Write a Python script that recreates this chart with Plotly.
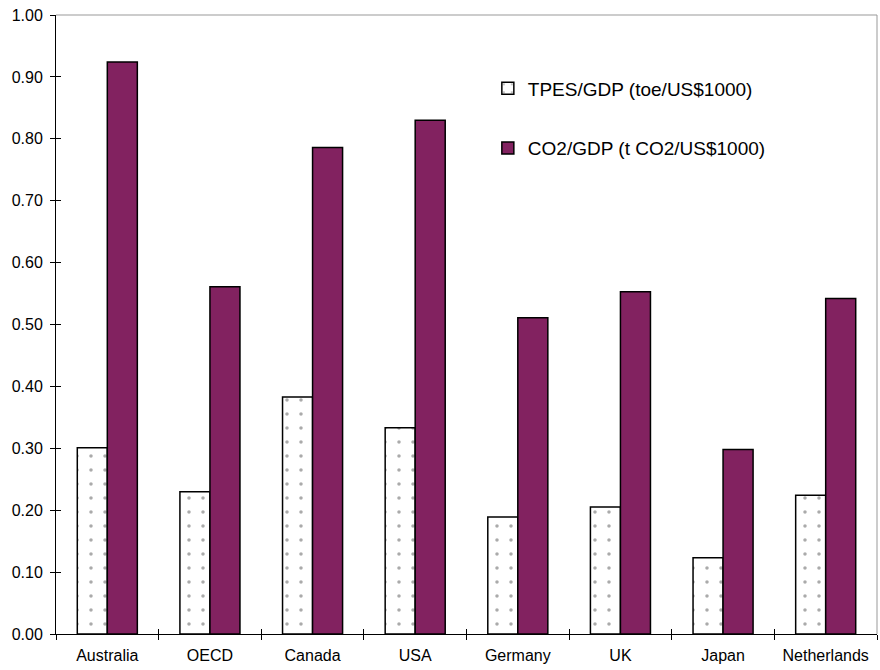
import plotly.graph_objects as go

categories = ["Australia", "OECD", "Canada", "USA", "Germany", "UK", "Japan", "Netherlands"]
tpes_gdp = [0.301, 0.230, 0.383, 0.333, 0.189, 0.205, 0.123, 0.224]
co2_gdp = [0.924, 0.561, 0.786, 0.830, 0.511, 0.553, 0.298, 0.542]
y_ticks = [i / 10 for i in range(11)]
y_tick_labels = [f"{v:.2f}" for v in y_ticks]

fig = go.Figure()
fig.add_trace(go.Bar(
    x=categories, y=tpes_gdp, name="TPES/GDP (toe/US$1000)",
    legendgroup="a",
    marker=dict(color="white", line=dict(color="black", width=1.5),
                pattern=dict(shape=".", fgcolor="#555555", bgcolor="white",
                             size=14, solidity=0.05)),
))
fig.add_trace(go.Bar(
    x=categories, y=co2_gdp, name="CO2/GDP (t CO2/US$1000)",
    legendgroup="b",
    marker=dict(color="#822260", line=dict(color="black", width=1.5)),
))
# invisible helper trace so the overlay axes (crossing ticks) are drawn
fig.add_trace(go.Scatter(x=categories, y=tpes_gdp, xaxis="x2", yaxis="y2",
                         mode="none", showlegend=False, hoverinfo="skip"))

fig.update_layout(
    width=880, height=670,
    margin=dict(l=56, r=3, t=15, b=36),
    paper_bgcolor="white", plot_bgcolor="white",
    barmode="group", bargap=0.415, bargroupgap=0,
    font=dict(family="Liberation Sans, Arial", size=16, color="black"),
    legend=dict(x=0.526, y=0.912, xanchor="left", yanchor="top",
                font=dict(size=19), tracegroupgap=32,
                bgcolor="rgba(0,0,0,0)", traceorder="grouped",
                itemwidth=30),
    showlegend=True,
    xaxis=dict(
        showline=True, linecolor="black", linewidth=1,
        ticks="outside", tickson="boundaries", ticklen=5, tickcolor="black",
        showgrid=False, tickfont=dict(size=16), automargin=False,
        ticklabelstandoff=7,
    ),
    yaxis=dict(
        range=[0, 1.0], tickvals=y_ticks, ticktext=y_tick_labels,
        showline=True, linecolor="black", linewidth=1,
        ticks="outside", ticklen=5, tickcolor="black",
        showgrid=False, zeroline=False, tickfont=dict(size=16),
        automargin=False, ticklabelstandoff=4,
    ),
    xaxis2=dict(overlaying="x", anchor="y", side="bottom", matches="x",
                showline=False, ticks="inside", tickson="boundaries",
                ticklen=5, tickcolor="black", showticklabels=False,
                showgrid=False),
    yaxis2=dict(overlaying="y", anchor="x", side="left", range=[0, 1.0],
                tickvals=y_ticks, showline=False, ticks="inside", ticklen=5,
                tickcolor="black", showticklabels=False, showgrid=False,
                zeroline=False),
)
# gray frame on top and right
fig.add_shape(type="line", xref="paper", yref="paper", x0=0, x1=1, y0=1, y1=1,
              line=dict(color="#999999", width=1))
fig.add_shape(type="line", xref="paper", yref="paper", x0=1, x1=1, y0=0, y1=1,
              line=dict(color="#999999", width=1))

fig.write_html("out.html", config={"displayModeBar": False},
               post_script="document.body.style.margin='0';document.body.style.padding='0';")
